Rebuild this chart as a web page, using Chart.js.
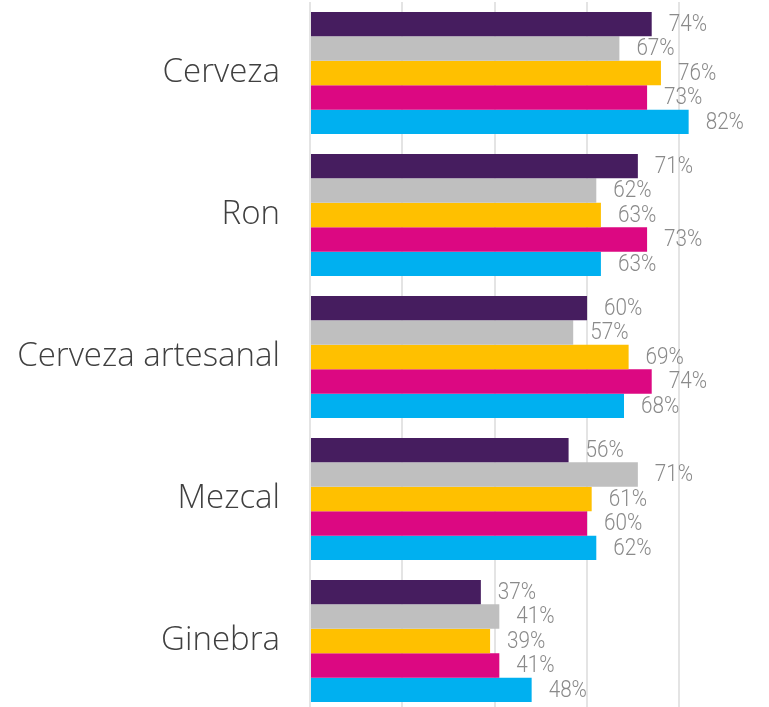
<!DOCTYPE html>
<html>
<head>
<meta charset="utf-8">
<script src="https://cdn.jsdelivr.net/npm/chart.js@4"></script>
<style>
  html, body { margin: 0; padding: 0; background: #fff; overflow: hidden; }
  #drinksChart { position: absolute; left: 0; top: 0; }
</style>
</head>
<body>
<canvas id="drinksChart" width="769" height="714"></canvas>
<script>
const categories = ['Cerveza', 'Ron', 'Cerveza artesanal', 'Mezcal', 'Ginebra'];
const seriesNames = ['Serie 1', 'Serie 2', 'Serie 3', 'Serie 4', 'Serie 5'];
const serie1 = [74, 71, 60, 56, 37];
const serie2 = [67, 62, 57, 71, 41];
const serie3 = [76, 63, 69, 61, 39];
const serie4 = [73, 73, 74, 60, 41];
const serie5 = [82, 63, 68, 62, 48];
const xTicks = [0, 20, 40, 60, 80];

const colors = ['#461d5f', '#bfbfbf', '#ffc000', '#dc0882', '#00b0f0'];
const allSeries = [serie1, serie2, serie3, serie4, serie5];

// value labels to the right of each bar (squeezed a bit, the original uses a condensed face)
const valueLabels = {
    id: 'valueLabels',
    afterDatasetsDraw(chart) {
        const ctx = chart.ctx;
        chart.data.datasets.forEach((ds, i) => {
            chart.getDatasetMeta(i).data.forEach((bar, j) => {
                ctx.save();
                ctx.font = '300 23px Roboto, sans-serif';
                ctx.fillStyle = '#8a8a8a';
                ctx.textAlign = 'left';
                ctx.textBaseline = 'middle';
                ctx.translate(bar.x + 17, bar.y + 1);
                ctx.scale(0.9, 1);
                ctx.fillText(ds.data[j] + '%', 0, 0);
                ctx.restore();
            });
        });
    }
};

const ctx = document.getElementById('drinksChart').getContext('2d');
const chart = new Chart(ctx, {
    type: 'bar',
    data: {
        labels: categories,
        datasets: allSeries.map((values, i) => ({
            label: seriesNames[i],
            data: values,
            backgroundColor: colors[i],
            borderWidth: 0,
            barPercentage: 1,
            categoryPercentage: 0.86
        }))
    },
    options: {
        indexAxis: 'y',
        responsive: false,
        animation: false,
        layout: { padding: { top: 2, bottom: 2, left: 0, right: 0 } },
        plugins: {
            legend: { display: false },
            tooltip: { enabled: false }
        },
        scales: {
            x: {
                min: 0,
                max: 99.4,
                afterBuildTicks: (scale) => {
                    scale.ticks = xTicks.map(v => ({ value: v }));
                },
                ticks: { display: false },
                border: { display: false },
                grid: { color: '#e4e4e4', lineWidth: 2, drawTicks: false }
            },
            y: {
                afterFit: (scale) => {
                    scale.width = 310;
                    scale.paddingTop = 0;
                    scale.paddingBottom = 0;
                },
                ticks: {
                    padding: 30,
                    color: '#404040',
                    font: { family: '"Open Sans"', size: 33, weight: '300' }
                },
                border: { display: false },
                grid: { display: false, drawTicks: false }
            }
        }
    },
    plugins: [valueLabels]
});
</script>
</body>
</html>
